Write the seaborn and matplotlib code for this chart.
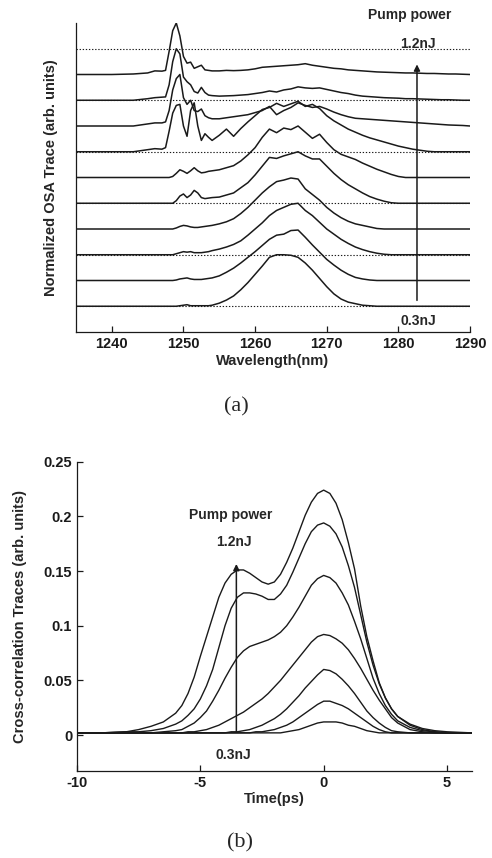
import numpy as np
import matplotlib
matplotlib.use("Agg")
import matplotlib.pyplot as plt
import seaborn as sns

# ---- (a) normalized OSA spectra, 0.3nJ (bottom) -> 1.2nJ (top) ----
wavelength = [1235, 1240, 1243, 1245, 1246,
              1247, 1247.5, 1248, 1248.5, 1249, 1249.5, 1250, 1250.5,
              1251, 1251.5, 1252, 1252.5, 1253, 1253.5, 1254,
              1255, 1256, 1257, 1258, 1259, 1260, 1261, 1262, 1263, 1264, 1265, 1266,
              1267, 1268, 1269, 1270, 1271, 1272, 1273, 1274, 1275, 1276, 1277, 1278,
              1279, 1280, 1281, 1282, 1283, 1284, 1285, 1286, 1287, 1288, 1289, 1290]

spec_0p3 = [0, 0, 0, 0, 0,
            0, 0, 0, 0, 0, 0.01, 0.02, 0.03, 0.01, 0.01, 0.01, 0.01, 0.01, 0.01, 0.02,
            0.06, 0.12, 0.2, 0.32, 0.46, 0.62, 0.78, 0.95, 1.0, 1.0, 0.99, 0.95,
            0.84, 0.7, 0.54, 0.38, 0.24, 0.14, 0.08, 0.05, 0.02, 0.01, 0, 0,
            0, 0, 0, 0, 0, 0, 0, 0, 0, 0, 0, 0]
spec_0p4 = [0, 0, 0, 0, 0,
            0, 0, 0, 0, 0.01, 0.03, 0.04, 0.05, 0.03, 0.02, 0.02, 0.02, 0.03, 0.04, 0.05,
            0.09, 0.16, 0.24, 0.34, 0.45, 0.56, 0.68, 0.8, 0.88, 0.9, 0.97, 0.98,
            0.84, 0.69, 0.55, 0.41, 0.3, 0.2, 0.12, 0.06, 0.03, 0.01, 0, 0,
            0, 0, 0, 0, 0, 0, 0, 0, 0, 0, 0, 0]
spec_0p5 = [0, 0, 0, 0, 0,
            0, 0, 0, 0, 0.02, 0.04, 0.06, 0.05, 0.06, 0.04, 0.04, 0.04, 0.05, 0.06, 0.08,
            0.11, 0.15, 0.2, 0.27, 0.38, 0.5, 0.62, 0.76, 0.86, 0.92, 0.98, 1.0,
            0.86, 0.76, 0.63, 0.5, 0.4, 0.3, 0.22, 0.15, 0.1, 0.06, 0.03, 0.01,
            0, 0, 0, 0, 0, 0, 0, 0, 0, 0, 0, 0]
spec_0p6 = [0, 0, 0, 0, 0,
            0, 0, 0, 0, 0.02, 0.05, 0.07, 0.06, 0.04, 0.03, 0.03, 0.04, 0.05, 0.06, 0.07,
            0.1, 0.14, 0.2, 0.3, 0.42, 0.56, 0.7, 0.82, 0.92, 0.95, 0.99, 0.97,
            0.78, 0.67, 0.56, 0.42, 0.31, 0.22, 0.15, 0.1, 0.07, 0.04, 0.01, 0,
            0, 0, 0, 0, 0, 0, 0, 0, 0, 0, 0, 0]
spec_0p7 = [0, 0, 0, 0, 0,
            0, 0, 0, 0, 0.05, 0.14, 0.18, 0.11, 0.16, 0.25, 0.2, 0.11, 0.09, 0.1, 0.11,
            0.12, 0.16, 0.2, 0.3, 0.4, 0.55, 0.72, 0.89, 0.87, 0.92, 0.96, 1.0,
            0.92, 0.86, 0.86, 0.72, 0.58, 0.46, 0.36, 0.28, 0.2, 0.13, 0.08, 0.04,
            0.01, 0, 0, 0, 0, 0, 0, 0, 0, 0, 0, 0]
spec_0p8 = [0, 0, 0, 0, 0,
            0, 0, 0, 0.02, 0.08, 0.15, 0.12, 0.08, 0.13, 0.19, 0.13, 0.09, 0.1, 0.12, 0.13,
            0.15, 0.19, 0.23, 0.32, 0.44, 0.58, 0.78, 0.94, 0.87, 0.96, 0.93, 1.0,
            0.88, 0.76, 0.84, 0.68, 0.54, 0.45, 0.4, 0.35, 0.28, 0.22, 0.16, 0.11,
            0.06, 0.02, 0, 0, 0, 0, 0, 0, 0, 0, 0, 0]
spec_0p9 = [0, 0, 0, 0.04, 0.06,
            0.05, 0.08, 0.4, 0.75, 0.9, 0.92, 0.5, 0.3, 0.8, 0.95, 0.5, 0.22, 0.35, 0.28, 0.22,
            0.32, 0.44, 0.3, 0.45, 0.58, 0.7, 0.82, 0.86, 0.94, 0.88, 0.93, 0.98,
            0.88, 0.92, 0.84, 0.7, 0.6, 0.52, 0.44, 0.38, 0.32, 0.27, 0.23, 0.19,
            0.15, 0.11, 0.08, 0.05, 0.03, 0.01, 0, 0, 0, 0, 0, 0]
spec_1p0 = [0, 0, 0, 0.04, 0.06,
            0.06, 0.08, 0.3, 0.7, 0.92, 1.0, 0.55, 0.42, 0.5, 0.3, 0.28, 0.33, 0.2, 0.16, 0.14,
            0.14, 0.16, 0.18, 0.2, 0.22, 0.26, 0.3, 0.38, 0.22, 0.3, 0.36, 0.45,
            0.4, 0.36, 0.38, 0.33, 0.27, 0.22, 0.18, 0.15, 0.14, 0.13, 0.12, 0.11,
            0.1, 0.09, 0.08, 0.07, 0.06, 0.05, 0.04, 0.03, 0.02, 0.015, 0.01, 0]
spec_1p1 = [0, 0, 0, 0.03, 0.05,
            0.06, 0.065, 0.3, 0.75, 1.0, 0.9, 0.45, 0.36, 0.3, 0.17, 0.14, 0.25, 0.15, 0.1, 0.09,
            0.08, 0.085, 0.09, 0.1, 0.11, 0.13, 0.15, 0.18, 0.16, 0.2, 0.22, 0.26,
            0.24, 0.23, 0.24, 0.21, 0.18, 0.15, 0.13, 0.1, 0.08, 0.07, 0.06, 0.05,
            0.045, 0.04, 0.03, 0.03, 0.025, 0.02, 0.015, 0.01, 0.01, 0.005, 0, 0]
spec_1p2 = [0, 0, 0.01, 0.03, 0.07,
            0.065, 0.08, 0.45, 0.85, 1.0, 0.75, 0.35, 0.22, 0.24, 0.12, 0.15, 0.18, 0.09, 0.08, 0.07,
            0.07, 0.08, 0.075, 0.08, 0.09, 0.11, 0.14, 0.15, 0.16, 0.17, 0.18, 0.19,
            0.21, 0.18, 0.16, 0.14, 0.12, 0.11, 0.09, 0.08, 0.07, 0.06, 0.05, 0.045,
            0.04, 0.035, 0.03, 0.03, 0.025, 0.02, 0.02, 0.015, 0.01, 0.01, 0.005, 0]

# ---- (b) cross-correlation traces, 0.3nJ (lowest) -> 1.2nJ (highest) ----
time_ps = [-10, -9, -8, -7.5, -7, -6.5, -6,
           -5.75, -5.5, -5.25, -5, -4.75, -4.5, -4.25, -4, -3.75, -3.5, -3.25, -3,
           -2.75, -2.5, -2.25, -2, -1.75, -1.5, -1.25, -1, -0.75, -0.5, -0.25, 0,
           0.25, 0.5, 0.75, 1, 1.25, 1.5, 1.75, 2, 2.25, 2.5, 2.75, 3,
           3.5, 4, 4.5, 5, 6]

xc_1 = [0.002, 0.002, 0.002, 0.002, 0.002, 0.002, 0.002,
        0.002, 0.002, 0.002, 0.002, 0.002, 0.002, 0.002, 0.002, 0.002, 0.002, 0.002, 0.002,
        0.002, 0.002, 0.002, 0.002, 0.002, 0.003, 0.004, 0.005, 0.007, 0.009, 0.011, 0.012,
        0.012, 0.012, 0.011, 0.009, 0.008, 0.006, 0.004, 0.003, 0.002, 0.002, 0.002, 0.002,
        0.002, 0.002, 0.002, 0.002, 0.002]
xc_2 = [0.002, 0.002, 0.002, 0.002, 0.002, 0.002, 0.002,
        0.002, 0.002, 0.002, 0.002, 0.002, 0.002, 0.002, 0.002, 0.002, 0.002, 0.002, 0.002,
        0.003, 0.003, 0.004, 0.005, 0.007, 0.009, 0.012, 0.016, 0.02, 0.024, 0.028, 0.031,
        0.031, 0.029, 0.027, 0.024, 0.02, 0.016, 0.012, 0.008, 0.005, 0.003, 0.002, 0.002,
        0.002, 0.002, 0.002, 0.002, 0.002]
xc_3 = [0.002, 0.002, 0.002, 0.002, 0.002, 0.002, 0.002,
        0.002, 0.002, 0.002, 0.002, 0.002, 0.002, 0.002, 0.002, 0.003, 0.003, 0.004, 0.005,
        0.007, 0.009, 0.012, 0.015, 0.019, 0.024, 0.03, 0.036, 0.043, 0.049, 0.055, 0.06,
        0.059, 0.056, 0.051, 0.045, 0.038, 0.03, 0.022, 0.016, 0.011, 0.007, 0.004, 0.003,
        0.002, 0.002, 0.002, 0.002, 0.002]
xc_4 = [0.002, 0.002, 0.002, 0.002, 0.002, 0.002, 0.002,
        0.002, 0.003, 0.003, 0.004, 0.005, 0.007, 0.009, 0.012, 0.015, 0.018, 0.021, 0.025,
        0.029, 0.033, 0.038, 0.044, 0.05, 0.057, 0.064, 0.071, 0.078, 0.085, 0.09, 0.092,
        0.091, 0.088, 0.084, 0.078, 0.07, 0.061, 0.051, 0.041, 0.032, 0.024, 0.016, 0.011,
        0.005, 0.003, 0.002, 0.002, 0.002]
xc_5 = [0.002, 0.002, 0.002, 0.002, 0.002, 0.003, 0.004,
        0.005, 0.008, 0.011, 0.016, 0.022, 0.031, 0.041, 0.052, 0.062, 0.071, 0.077, 0.081,
        0.083, 0.085, 0.087, 0.09, 0.094, 0.1, 0.108, 0.117, 0.127, 0.137, 0.143, 0.146,
        0.144, 0.139, 0.13, 0.119, 0.104, 0.088, 0.07, 0.052, 0.038, 0.027, 0.019, 0.013,
        0.007, 0.004, 0.003, 0.002, 0.002]
xc_6 = [0.002, 0.002, 0.003, 0.003, 0.004, 0.006, 0.01,
        0.013, 0.018, 0.024, 0.033, 0.045, 0.06, 0.08, 0.1, 0.116, 0.126, 0.13, 0.13,
        0.129, 0.127, 0.124, 0.124, 0.129, 0.137, 0.149, 0.162, 0.175, 0.186, 0.192, 0.194,
        0.191, 0.184, 0.172, 0.155, 0.135, 0.11, 0.085, 0.064, 0.047, 0.034, 0.024, 0.017,
        0.009, 0.005, 0.003, 0.002, 0.002]
xc_7 = [0.002, 0.002, 0.003, 0.005, 0.008, 0.012, 0.02,
        0.027, 0.038, 0.053, 0.072, 0.09, 0.108, 0.126, 0.139, 0.147, 0.151, 0.151, 0.148,
        0.144, 0.14, 0.138, 0.14, 0.147, 0.158, 0.171, 0.186, 0.201, 0.213, 0.221, 0.224,
        0.221, 0.212, 0.197, 0.176, 0.152, 0.118, 0.09, 0.068, 0.048, 0.034, 0.024, 0.017,
        0.01, 0.006, 0.004, 0.003, 0.002]

spectra = [spec_0p3, spec_0p4, spec_0p5, spec_0p6, spec_0p7,
           spec_0p8, spec_0p9, spec_1p0, spec_1p1, spec_1p2]
xcorr = [xc_1, xc_2, xc_3, xc_4, xc_5, xc_6, xc_7]

sns.set_theme(style="ticks")
plt.rcParams["font.family"] = ["Liberation Sans", "DejaVu Sans"]
plt.rcParams["font.weight"] = "bold"
plt.rcParams["axes.labelweight"] = "bold"
plt.rcParams["axes.unicode_minus"] = False

fig = plt.figure(figsize=(4.92, 8.58), dpi=100)
fig.patch.set_facecolor("white")

# ---------------- panel (a) ----------------
ax1 = fig.add_axes([76 / 492, 1 - 332 / 858, 394 / 492, 309 / 858])
for i, s in enumerate(spectra):
    sns.lineplot(x=wavelength, y=np.array(s) * 2 + i, ax=ax1, color="k",
                 lw=1.1, estimator=None, sort=False)
for lvl in [0, 2, 4, 6, 8, 10]:
    ax1.axhline(lvl, color="k", lw=0.8, ls=(0, (1.2, 1.6)), zorder=1)

ax1.set_xlim(1235, 1290)
ax1.set_ylim(-1, 11)
ax1.set_xticks([1240, 1250, 1260, 1270, 1280, 1290])
ax1.set_yticks([])
ax1.set_xlabel("Wavelength(nm)", fontsize=10.5, labelpad=2)
ax1.set_ylabel("Normalized OSA Trace (arb. units)", fontsize=10.5)
ax1.yaxis.set_label_coords(-0.046, 0.5)

ax1.annotate("", xy=(1282.6, 9.5), xytext=(1282.6, 0.12),
             arrowprops=dict(arrowstyle="-|>", color="k", lw=1.1, mutation_scale=9))
ax1.text(1281.6, 11.3, "Pump power", ha="center", va="center", fontsize=10)
ax1.text(1282.8, 10.2, "1.2nJ", ha="center", va="center", fontsize=10)
ax1.text(1282.8, -0.57, "0.3nJ", ha="center", va="center", fontsize=10)

# ---------------- panel (b) ----------------
ax2 = fig.add_axes([77 / 492, 1 - 770.7 / 858, 394.7 / 492, 309 / 858])
for s in xcorr:
    sns.lineplot(x=time_ps, y=s, ax=ax2, color="k", lw=1.0,
                 estimator=None, sort=False)

ax2.set_xlim(-10, 6)
ax2.set_ylim(-0.0326, 0.25)
ax2.set_xticks([-10, -5, 0, 5])
ax2.set_yticks([0, 0.05, 0.1, 0.15, 0.2, 0.25])
ax2.set_yticklabels(["0", "0.05", "0.1", "0.15", "0.2", "0.25"])
ax2.set_xlabel("Time(ps)", fontsize=10.5, labelpad=2)
ax2.set_ylabel("Cross-correlation Traces (arb. units)", fontsize=10.5)
ax2.yaxis.set_label_coords(-0.127, 0.5)

ax2.annotate("", xy=(-3.54, 0.159), xytext=(-3.54, 0.0),
             arrowprops=dict(arrowstyle="-|>", color="k", lw=1.1, mutation_scale=9))
ax2.text(-3.78, 0.201, "Pump power", ha="center", va="center", fontsize=10)
ax2.text(-3.65, 0.177, "1.2nJ", ha="center", va="center", fontsize=10)
ax2.text(-3.65, -0.018, "0.3nJ", ha="center", va="center", fontsize=10)

for ax in (ax1, ax2):
    for side in ("top", "right"):
        ax.spines[side].set_visible(False)
    for side in ("left", "bottom"):
        ax.spines[side].set_color("k")
        ax.spines[side].set_linewidth(0.9)
    ax.tick_params(direction="in", length=4, width=0.9, colors="k", labelsize=10.5)
    ax.set_facecolor("white")

fig.text(236 / 492, 1 - 407 / 858, "(a)", ha="center", va="center",
         fontsize=16, family="Liberation Serif", weight="normal")
fig.text(240 / 492, 1 - 843 / 858, "(b)", ha="center", va="center",
         fontsize=16, family="Liberation Serif", weight="normal")

fig.savefig("out.png", dpi=100, facecolor="white")
